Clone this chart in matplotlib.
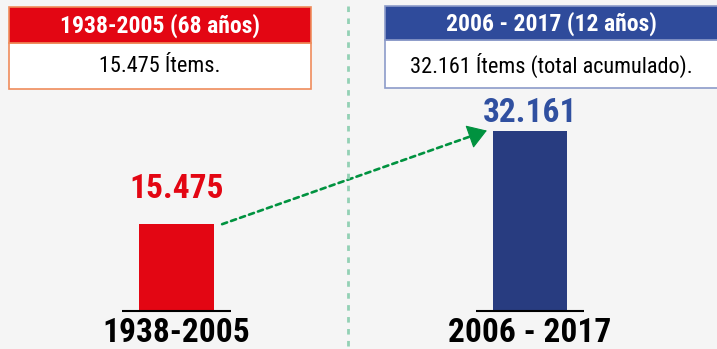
import matplotlib
matplotlib.use("Agg")
import matplotlib.pyplot as plt
from matplotlib.patches import Rectangle
from matplotlib import font_manager

# ---- data ----
categories = ["1938-2005", "2006 - 2017"]
values = [15475, 32161]
value_labels = ["15.475", "32.161"]
box_titles = ["1938-2005 (68 años)", "2006 - 2017 (12 años)"]
box_texts = ["15.475 Ítems.", "32.161 Ítems (total acumulado)."]

# ---- style ----
available = {f.name for f in font_manager.fontManager.ttflist}
preferred = ["Roboto Condensed", "Archivo Narrow", "PT Sans Narrow",
             "Liberation Sans Narrow", "Roboto", "DejaVu Sans"]
FONT = [f for f in preferred if f in available][:1] + ["DejaVu Sans"]
plt.rcParams["font.family"] = FONT

BG = "#f5f5f5"
RED = "#e30613"
BAR_BLUE = "#283c80"
LABEL_BLUE = "#3050a0"
HEAD_BLUE = "#2f4b9b"
GREEN = "#00923f"

W, H = 717, 349
fig = plt.figure(figsize=(W / 100, H / 100), dpi=100, facecolor=BG)


def fx(px):
    return px / W


def fy(py):
    return 1 - py / H


# main axes spans the whole figure; bars sit on y = 0
ax = fig.add_axes([0, 0, 1, 1], facecolor=BG)
scale = 0.00561  # pixels per item
ax.set_ylim(-38 / scale, 311 / scale)
ax.set_xlim(-176.5 / 353.5, (W - 176.5) / 353.5)

x = list(range(len(categories)))
bar_colors = [RED, BAR_BLUE]
label_colors = [RED, LABEL_BLUE]
ax.bar(x, values, width=0.212, color=bar_colors, zorder=3)
ax.hlines([0] * len(x), [i - 0.154 for i in x], [i + 0.154 for i in x],
          color="black", lw=1.5, zorder=4)

label_offsets = [19, 6]  # points above the bar top
for i, (v, lab, c, off) in enumerate(zip(values, value_labels, label_colors, label_offsets)):
    ax.annotate(lab, xy=(i, v), xytext=(0, off), textcoords="offset points",
                ha="center", va="baseline", fontsize=24, fontweight="bold", color=c)

# category labels as tick labels on the baseline
for s in ax.spines.values():
    s.set_visible(False)
ax.spines["bottom"].set_position(("data", 0))
ax.set_xticks(x)
ax.set_xticklabels(categories, fontsize=24, fontweight="bold", color="black")
ax.tick_params(axis="x", length=0, pad=4)
ax.set_yticks([])

# growth arrow from the first bar to the second: dashed shaft + solid head
x0, y0 = 0.129, values[0]
x1, y1 = 0.878, values[1]
ax.annotate("", xy=(x1 - 0.035, y1 - 0.035 * (y1 - y0) / (x1 - x0)), xytext=(x0, y0),
            arrowprops=dict(arrowstyle="-", color=GREEN, lw=1.9,
                            linestyle=(0, (2.0, 1.6)), shrinkA=0, shrinkB=0), zorder=5)
ax.annotate("", xy=(x1, y1), xytext=(x1 - 0.05, y1 - 0.05 * (y1 - y0) / (x1 - x0)),
            arrowprops=dict(arrowstyle="-|>,head_length=0.42,head_width=0.27",
                            color=GREEN, lw=0.8, mutation_scale=29,
                            shrinkA=0, shrinkB=0), zorder=5)

# vertical divider
fig.add_artist(plt.Line2D([fx(348), fx(348)], [fy(6), 0], transform=fig.transFigure,
                          color="#93d1b5", lw=2, linestyle=(0, (2, 2.3))))

# summary boxes at the top
boxes = [
    dict(x0=9, x1=311, top=7, mid=43, bot=89, head=RED, edge="#ef8c5c"),
    dict(x0=385, x1=720, top=6, mid=40, bot=88, head=HEAD_BLUE, edge="#8c9bc9"),
]
for b, title, text in zip(boxes, box_titles, box_texts):
    w = fx(b["x1"]) - fx(b["x0"])
    fig.add_artist(Rectangle((fx(b["x0"]), fy(b["bot"])), w, fy(b["mid"]) - fy(b["bot"]),
                             transform=fig.transFigure, facecolor="white",
                             edgecolor=b["edge"], lw=1.2))
    fig.add_artist(Rectangle((fx(b["x0"]), fy(b["mid"])), w, fy(b["top"]) - fy(b["mid"]),
                             transform=fig.transFigure, facecolor=b["head"],
                             edgecolor=b["edge"], lw=1.2))
    cx = fx((b["x0"] + min(b["x1"], W)) / 2)
    fig.text(cx, fy((b["top"] + b["mid"]) / 2 + 1), title, ha="center", va="center",
             fontsize=17, fontweight="bold", color="white")
    fig.text(cx, fy((b["mid"] + b["bot"]) / 2 + 1), text, ha="center", va="center",
             fontsize=16, color="black")

fig.savefig("out.png", dpi=100, facecolor=BG)
